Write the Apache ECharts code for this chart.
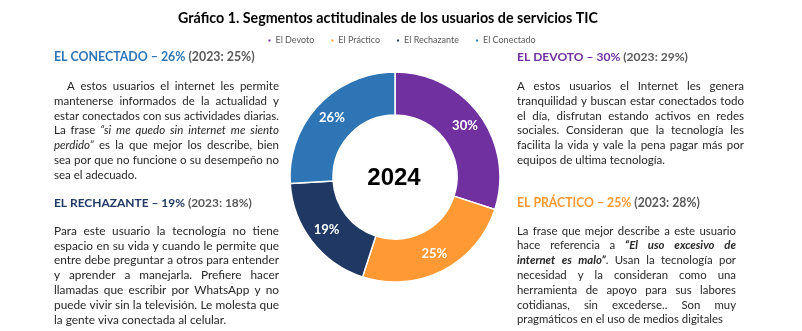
<!DOCTYPE html>
<html><head><meta charset="utf-8">
<script src="https://cdn.jsdelivr.net/npm/echarts@6/dist/echarts.min.js"></script>
<style>html,body{margin:0;padding:0;background:#fff}#c{width:802px;height:331px}</style>
</head><body><div id="c"></div>
<script>
// ---- data ----
const categories = ['El Devoto', 'El Práctico', 'El Rechazante', 'El Conectado'];
const values2024 = [30, 25, 19, 26];
const values2023 = [29, 28, 18, 25];
const colors = ['#7030A0', '#FF9933', '#1F3864', '#2E75B6'];
const headingNames = ['EL DEVOTO', 'EL PRÁCTICO', 'EL RECHAZANTE', 'EL CONECTADO'];
const centerLabel = '2024';
const titleText = 'Gráfico 1. Segmentos actitudinales de los usuarios de servicios TIC';

// paragraph lines: segments [text, style]; n = normal, i = italic, bi = bold italic
const textDevoto = [
  [['A estos usuarios el Internet les genera', 'n']],
  [['tranquilidad y buscan estar conectados todo', 'n']],
  [['el día, disfrutan estando activos en redes', 'n']],
  [['sociales. Consideran que la tecnología les', 'n']],
  [['facilita la vida y vale la pena pagar más por', 'n']],
  [['equipos de ultima tecnología.', 'n']]
];
const textPractico = [
  [['La frase que mejor describe a este usuario', 'n']],
  [['hace referencia a ', 'n'], ['“El uso excesivo de', 'bi']],
  [['internet es malo”', 'bi'], ['. Usan la tecnología por', 'n']],
  [['necesidad y la consideran como una', 'n']],
  [['herramienta de apoyo para sus labores', 'n']],
  [['cotidianas, sin excederse.. Son muy', 'n']],
  [['pragmáticos en el uso de medios digitales', 'n']]
];
const textRechazante = [
  [['Para este usuario la tecnología no tiene', 'n']],
  [['espacio en su vida y cuando le permite que', 'n']],
  [['entre debe preguntar a otros para entender', 'n']],
  [['y aprender a manejarla. Prefiere hacer', 'n']],
  [['llamadas que escribir por WhatsApp y no', 'n']],
  [['puede vivir sin la televisión. Le molesta que', 'n']],
  [['la gente viva conectada al celular.', 'n']]
];
const textConectado = [
  [['A estos usuarios el internet les permite', 'n']],
  [['mantenerse informados de la actualidad y', 'n']],
  [['estar conectados con sus actividades diarias.', 'n']],
  [['La frase ', 'n'], ['“si me quedo sin internet me siento', 'i']],
  [['perdido”', 'i'], [' es la que mejor los describe, bien', 'n']],
  [['sea por que no funcione o su desempeño no', 'n']],
  [['sea el adecuado.', 'n']]
];
const paragraphs = [textDevoto, textPractico, textRechazante, textConectado];

// ---- layout ----
const FAMILY = 'Lato';
const blocks = [
  {k: 0, x: 517, w: 227, headY: 57, headW: 171, y0: 86, dy: 14.9, indent: 0, lastW: 148},
  {k: 1, x: 517, w: 219, headY: 203, headW: 183, y0: 231, dy: 14.8, indent: 0, lastW: 206},
  {k: 2, x: 54, w: 225, headY: 203, headW: 198, y0: 231, dy: 14.8, indent: 0, lastW: 173},
  {k: 3, x: 54, w: 225, headY: 57, headW: 201, y0: 86, dy: 14.9, indent: 13, lastW: 83}
];

const cv = document.createElement('canvas');
const ctx = cv.getContext('2d');
function fontOf(st, size, weight) {
  const it = (st === 'i' || st === 'bi') ? 'italic' : 'normal';
  const bw = (st === 'bi' || weight === 'bold') ? 'bold' : 'normal';
  return {style: it, weight: bw, size: size};
}
function measure(text, f) {
  ctx.font = f.style + ' ' + f.weight + ' ' + f.size + 'px ' + FAMILY;
  return ctx.measureText(text).width;
}
function tokenize(segs) {
  const words = [];
  let cur = [];
  segs.forEach(([text, st]) => {
    const parts = text.split(' ');
    parts.forEach((p, i) => {
      if (i > 0) { if (cur.length) words.push(cur); cur = []; }
      if (p !== '') cur.push({t: p, st: st});
    });
  });
  if (cur.length) words.push(cur);
  return words;
}
const graphics = [];
function addText(x, y, text, f, fill, align) {
  graphics.push({
    type: 'text', x: x, y: y, silent: true,
    style: {
      text: text, fill: fill, fontSize: f.size, fontFamily: FAMILY,
      fontWeight: f.weight, fontStyle: f.style,
      textAlign: align || 'left', textVerticalAlign: 'middle',
      align: align || 'left', verticalAlign: 'middle'
    }
  });
}
function lineNatural(words, size) {
  let w = 0;
  words.forEach((wd, i) => {
    wd.forEach(p => { w += measure(p.t, fontOf(p.st, size)); });
    if (i > 0) w += measure(' ', fontOf('n', size));
  });
  return w;
}

blocks.forEach(b => {
  const k = b.k;
  // heading
  const h1 = headingNames[k] + ' – ' + values2024[k] + '%';
  const h2 = ' (2023: ' + values2023[k] + '%)';
  const f12 = fontOf('n', 12, 'bold');
  const hw = measure(h1, f12) + measure(h2, f12);
  const hs = 12 * b.headW / hw;
  const hf = fontOf('n', hs, 'bold');
  addText(b.x, b.headY, h1, hf, colors[k]);
  addText(b.x + measure(h1, hf), b.headY, h2, hf, '#595959');
  // paragraph
  const lines = paragraphs[k].map(tokenize);
  const n = lines.length;
  let size = 11 * b.lastW / lineNatural(lines[n - 1], 11);
  lines.forEach((ws, li) => {
    if (li < n - 1) {
      const avail = b.w - (li === 0 ? b.indent : 0);
      const nat = lineNatural(ws, size);
      if (nat > avail - 1) size = size * (avail - 1) / nat;
    }
  });
  lines.forEach((ws, li) => {
    const x0 = b.x + (li === 0 ? b.indent : 0);
    const avail = b.w - (li === 0 ? b.indent : 0);
    const widths = ws.map(wd => wd.reduce((s, p) => s + measure(p.t, fontOf(p.st, size)), 0));
    const total = widths.reduce((a, c) => a + c, 0);
    const gap = (li === n - 1 || ws.length < 2) ? measure(' ', fontOf('n', size)) : (avail - total) / (ws.length - 1);
    let x = x0;
    const y = b.y0 + li * b.dy;
    ws.forEach((wd, wi) => {
      let px = x;
      wd.forEach(p => {
        const f = fontOf(p.st, size);
        addText(px, y, p.t, f, '#262626');
        px += measure(p.t, f);
      });
      x += widths[wi] + gap;
    });
  });
});

// title
{
  const tf0 = fontOf('n', 13, 'bold');
  const tw = measure(titleText, tf0);
  const tf = fontOf('n', 13 * 420 / tw, 'bold');
  addText(388, 18, titleText, tf, '#000', 'center');
}
// center label
graphics.push({
  type: 'text', x: 394, y: 178, silent: true,
  style: {text: centerLabel, fill: '#000', fontSize: 24, fontWeight: 'bold',
    fontFamily: 'Liberation Sans', textAlign: 'center', textVerticalAlign: 'middle',
    align: 'center', verticalAlign: 'middle'}
});

const chart = echarts.init(document.getElementById('c'), null, {renderer: 'canvas'});
chart.setOption({
  animation: false,
  color: colors,
  legend: {
    data: categories, top: 31, left: 'center', icon: 'rect',
    itemWidth: 4, itemHeight: 4, itemGap: 15, selectedMode: false,
    textStyle: {fontSize: 9, color: '#595959', fontFamily: FAMILY, padding: [0, 0, 0, -1]}
  },
  series: [{
    type: 'pie', center: [395, 177], radius: [62, 105], startAngle: 90, clockwise: true,
    silent: true, emphasis: {disabled: true},
    itemStyle: {borderColor: '#fff', borderWidth: 1.5},
    label: {show: true, position: 'inside', formatter: '{c}%', color: '#fff',
      fontSize: 13, fontWeight: 'bold', fontFamily: FAMILY},
    labelLine: {show: false},
    data: categories.map((c, i) => ({name: c, value: values2024[i]}))
  }],
  graphic: {elements: graphics}
});
</script>
</body></html>
